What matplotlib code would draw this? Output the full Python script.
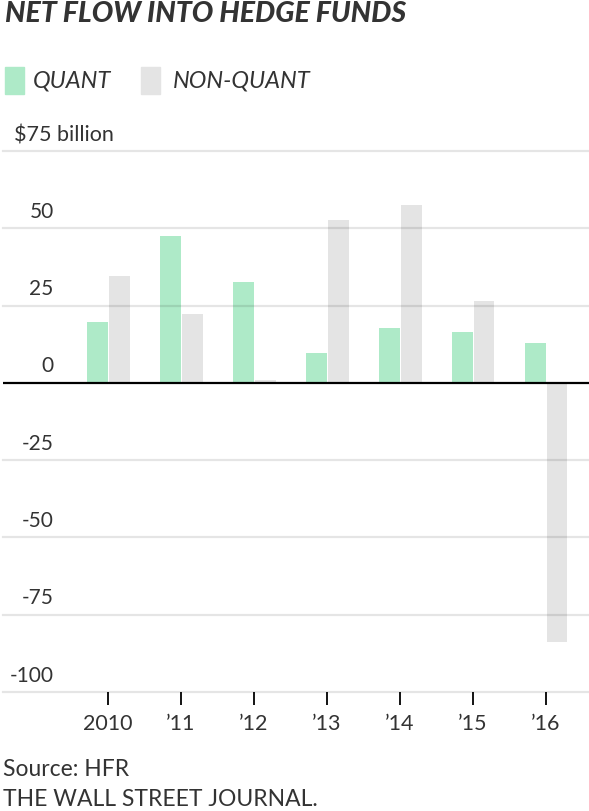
import matplotlib
matplotlib.use("Agg")
import matplotlib.pyplot as plt
import matplotlib.transforms as mtransforms
from matplotlib.patches import Rectangle
import numpy as np

years = ["2010", "\u201911", "\u201912", "\u201913", "\u201914", "\u201915", "\u201916"]
quant = [19.6, 47.5, 32.5, 9.6, 17.6, 16.3, 13.0]
non_quant = [34.5, 22.4, 0.8, 52.8, 57.6, 26.4, -83.9]
yticks = [75, 50, 25, 0, -25, -50, -75, -100]
series = ["QUANT", "NON-QUANT"]

green = "#aeeac8"
grey = "#e4e4e4"
txt = "#333333"
plt.rcParams["font.family"] = ["Lato", "DejaVu Sans"]

fig = plt.figure(figsize=(5.89, 8.11), dpi=100)
W, H = 589, 811
ax = fig.add_axes([3 / W, (H - 692) / H, 1 - 3 / W, (692 - 151) / H])

x = np.arange(len(years))
bw = 0.28
ax.bar(x - 0.145, quant, bw, color=green, zorder=1)
ax.bar(x + 0.155, non_quant, bw, color=grey, zorder=1)

ax.set_xlim(-1.44, 6.59)
ax.set_ylim(-100, 75)
for y in yticks:
    if y == 0:
        ax.axhline(0, color="black", lw=1.6, zorder=3)
    else:
        ax.axhline(y, color="black", alpha=0.1, lw=1.6, zorder=2, clip_on=False)

for s in ax.spines.values():
    s.set_visible(False)
ax.set_yticks([])
ax.set_xticks(x)
ax.set_xticklabels(years, fontsize=15.5, color=txt)
ax.tick_params(axis="x", length=9, width=1.3, color="black", pad=7)

# y labels sitting above the gridlines
tr = mtransforms.blended_transform_factory(ax.transAxes, ax.transData)
for y in yticks:
    if y == 75:
        ax.annotate("$75 billion", (0, y), xycoords=tr, xytext=(8, 7),
                    textcoords="offset points", ha="left", va="baseline",
                    fontsize=15.5, color=txt)
    else:
        ax.annotate(f"{y}", (0, y), xycoords=tr, xytext=(36.5, 7.5),
                    textcoords="offset points", ha="right", va="baseline",
                    fontsize=15, color=txt)

fig.text(5 / W, 1 - 14.5 / H, "NET FLOW INTO HEDGE FUNDS", fontsize=20.5,
         fontweight="black", fontstyle="italic", color=txt, va="center", ha="left")

# legend: swatch + italic label
for (sx, tx), lab, col in zip([(5, 33), (141, 173)], series, [green, grey]):
    fig.patches.append(Rectangle((sx / W, 1 - 94 / H), 19 / W, 27 / H,
                                 transform=fig.transFigure, color=col))
    fig.text(tx / W, 1 - 81 / H, lab, fontsize=17, fontstyle="italic",
             color=txt, va="center", ha="left")

fig.text(3 / W, 1 - 770 / H, "Source: HFR", fontsize=16.5, color=txt, va="center")
fig.text(3 / W, 1 - 800 / H, "THE WALL STREET JOURNAL.", fontsize=16.5, color=txt, va="center")

fig.savefig("out.png", dpi=100)
